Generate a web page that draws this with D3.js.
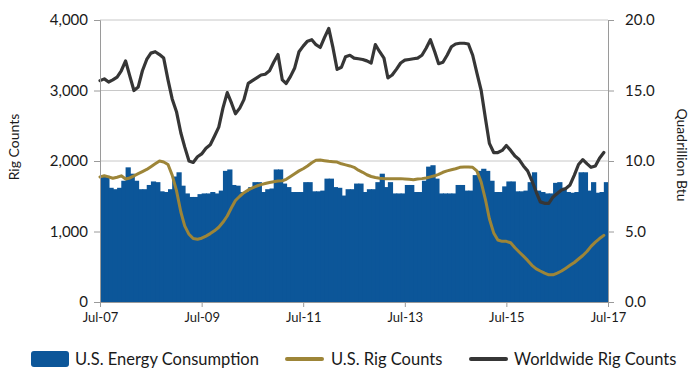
<!DOCTYPE html>
<html>
<head>
<meta charset="utf-8">
<script src="https://cdn.jsdelivr.net/npm/d3@7"></script>
<style>
  html, body { margin: 0; padding: 0; background: #fff; }
  svg { display: block; font-family: Lato, "Open Sans", sans-serif; }
</style>
</head>
<body>
<svg id="chart" width="700" height="382"></svg>
<script>
// ---- data (monthly, Jul-2007 .. Jun-2017) ----
const startMonth = "2007-07";
const energyConsumption = [
  8.9, 8.95, 8.1, 8.0, 8.1, 8.6, 9.55, 9.1, 8.6, 8.0, 8.0, 8.3,
  8.55, 8.5, 7.85, 7.8, 8.0, 8.9, 9.2, 8.25, 7.7, 7.45, 7.45, 7.65,
  7.7, 7.7, 7.8, 7.7, 7.9, 9.3, 9.4, 8.3, 8.25, 7.8, 7.8, 8.15,
  8.5, 8.5, 7.8, 8.0, 8.05, 9.4, 9.4, 8.4, 8.15, 7.8, 7.8, 7.8,
  8.5, 8.5, 7.85, 7.85, 7.9, 8.75, 8.75, 8.15, 8.1, 7.55, 8.0, 8.0,
  8.4, 8.4, 7.8, 8.0, 8.0, 8.5, 9.1, 8.15, 8.5, 7.7, 7.7, 7.7,
  8.3, 8.3, 7.8, 7.8, 8.6, 9.6, 9.7, 8.75, 7.7, 7.7, 7.7, 7.7,
  8.3, 8.3, 7.9, 7.9, 9.0, 9.3, 9.45, 9.3, 8.6, 7.8, 7.8, 8.2,
  8.55, 8.55, 7.85, 7.85, 7.9, 8.5, 9.2, 7.9, 7.8, 7.7, 7.7, 8.45,
  8.5, 8.1, 7.8, 7.75, 7.8, 9.2, 9.2, 7.9, 8.5, 7.75, 7.8, 8.5
];
const usRigCounts = [
  1775, 1790, 1775, 1755, 1770, 1790, 1745, 1760, 1790, 1820, 1850, 1880,
  1920, 1960, 2000, 1985, 1950, 1800, 1580, 1280, 1080, 960, 900, 890,
  905, 935, 970, 1010, 1060, 1130, 1220, 1340, 1440, 1500, 1550, 1590,
  1620, 1645, 1665, 1680, 1695, 1705, 1715, 1720, 1740, 1780, 1820, 1860,
  1890, 1930, 1975, 2010, 2015, 2005, 1995, 1990, 1985, 1960, 1945, 1930,
  1910, 1870, 1840, 1805, 1780, 1765, 1755, 1750, 1750, 1750, 1750, 1750,
  1745, 1740, 1735, 1745, 1750, 1760, 1775, 1790, 1810, 1840, 1860, 1875,
  1890, 1910, 1915, 1915, 1910, 1860, 1700, 1450, 1180, 980, 880, 860,
  860, 840, 770, 710, 650, 590, 520, 470, 440, 410, 385, 385,
  410, 440, 480, 520, 560, 610, 660, 720, 790, 850, 900, 945
];
const worldRigCounts = [
  3140, 3165, 3120, 3150, 3190, 3280, 3420, 3200, 3000, 3050, 3280, 3440,
  3530, 3550, 3510, 3460, 3150, 2880, 2700, 2400, 2200, 2000, 1980, 2060,
  2100, 2180, 2230, 2350, 2480, 2750, 2970, 2820, 2670, 2750, 2870, 3100,
  3140, 3180, 3220, 3230, 3280, 3400, 3510, 3150, 3100, 3200, 3320, 3550,
  3630, 3700, 3720, 3650, 3610, 3750, 3880, 3600, 3300, 3330, 3480, 3500,
  3460, 3450, 3440, 3420, 3390, 3650, 3550, 3460, 3180, 3220, 3300, 3390,
  3430, 3440, 3450, 3460, 3500, 3600, 3720, 3550, 3380, 3400, 3500, 3620,
  3660, 3670, 3670, 3660, 3500, 3250, 3000, 2600, 2250, 2120, 2120, 2150,
  2220, 2150, 2070, 2020, 1930, 1860, 1720, 1560, 1420, 1400, 1400, 1490,
  1540, 1590, 1610, 1660, 1800, 1950, 2020, 1960, 1910, 1930, 2040, 2120
];
const xTickLabels = ["Jul-07", "Jul-09", "Jul-11", "Jul-13", "Jul-15", "Jul-17"];
const leftTicks = [0, 1000, 2000, 3000, 4000];
const rightTicks = [0, 5, 10, 15, 20];
const seriesNames = ["U.S. Energy Consumption", "U.S. Rig Counts", "Worldwide Rig Counts"];

// ---- layout ----
const W = 700, H = 382;
const L = 100, R = 608, T = 20, B = 302;
const colBlue = "#0c5699", colGold = "#9d8538", colGray = "#363636";

const parse = d3.timeParse("%Y-%m");
const t0 = parse(startMonth);
const months = energyConsumption.map((_, i) => d3.timeMonth.offset(t0, i));
const tEnd = d3.timeMonth.offset(t0, 120);

const x = d3.scaleTime().domain([t0, tEnd]).range([L, R]);
const yL = d3.scaleLinear().domain([0, 4000]).range([B, T]);
const yR = d3.scaleLinear().domain([0, 20]).range([B, T]);

const svg = d3.select("#chart");

// gridlines
svg.append("g").selectAll("line").data(leftTicks.filter(d => d > 0)).join("line")
  .attr("x1", L).attr("x2", R)
  .attr("y1", d => yL(d)).attr("y2", d => yL(d))
  .attr("stroke", "#c8c8c8").attr("stroke-width", 1);

// bars
svg.append("g").selectAll("rect").data(energyConsumption).join("rect")
  .attr("x", (d, i) => x(months[i]))
  .attr("width", (d, i) => Math.min(R, x(d3.timeMonth.offset(months[i], 1)) + 0.9) - x(months[i]))
  .attr("y", d => yR(d))
  .attr("height", d => B - yR(d))
  .attr("fill", colBlue);

// lines
const line = d3.line().x((d, i) => x(months[i])).y(d => yL(d)).curve(d3.curveLinear);
svg.append("path").datum(usRigCounts).attr("d", line)
  .attr("fill", "none").attr("stroke", colGold).attr("stroke-width", 3)
  .attr("stroke-linejoin", "round").attr("stroke-linecap", "round");
svg.append("path").datum(worldRigCounts).attr("d", line)
  .attr("fill", "none").attr("stroke", colGray).attr("stroke-width", 3.2)
  .attr("stroke-linejoin", "round").attr("stroke-linecap", "round");

// axes
const axisColor = "#9a9a9a";
function styleAxis(g) {
  g.selectAll(".domain").attr("stroke", axisColor);
  g.selectAll(".tick line").attr("stroke", axisColor);
  g.selectAll(".tick text").attr("fill", "#1a1a1a");
}
const xTickDates = xTickLabels.map((_, i) => d3.timeMonth.offset(t0, i * 24));
const gx = svg.append("g").attr("transform", `translate(0,${B})`)
  .call(d3.axisBottom(x).tickValues(xTickDates).tickFormat((d, i) => xTickLabels[i]).tickSizeOuter(0).tickSize(5).tickPadding(6))
  .attr("font-size", 13).attr("font-family", "Lato, sans-serif");
styleAxis(gx);

const gl = svg.append("g").attr("transform", `translate(${L},0)`)
  .call(d3.axisLeft(yL).tickValues(leftTicks).tickFormat(d3.format(",")).tickSizeOuter(0).tickSize(6).tickPadding(6))
  .attr("font-size", 15).attr("font-family", "Lato, sans-serif");
styleAxis(gl);

const gr = svg.append("g").attr("transform", `translate(${R},0)`)
  .call(d3.axisRight(yR).tickValues(rightTicks).tickFormat(d3.format(".1f")).tickSizeOuter(0).tickSize(6).tickPadding(11))
  .attr("font-size", 15).attr("font-family", "Lato, sans-serif");
styleAxis(gr);

// axis titles
svg.append("text").attr("transform", "translate(19,147) rotate(-90)")
  .attr("text-anchor", "middle").attr("font-size", 14).attr("fill", "#1a1a1a").text("Rig Counts");
svg.append("text").attr("transform", "translate(677,155) rotate(90)")
  .attr("text-anchor", "middle").attr("font-size", 14).attr("fill", "#1a1a1a").text("Quadrillion Btu");

// legend
const ly = 359;
const lg = svg.append("g").attr("font-size", 16.5).attr("fill", "#1a1a1a");
lg.append("rect").attr("x", 31).attr("y", ly - 8).attr("width", 38).attr("height", 16).attr("rx", 3).attr("fill", colBlue);
lg.append("text").attr("x", 75).attr("y", ly + 6).text(seriesNames[0]);
lg.append("line").attr("x1", 287).attr("x2", 322).attr("y1", ly).attr("y2", ly)
  .attr("stroke", colGold).attr("stroke-width", 4).attr("stroke-linecap", "round");
lg.append("text").attr("x", 331).attr("y", ly + 6).text(seriesNames[1]);
lg.append("line").attr("x1", 471).attr("x2", 506).attr("y1", ly).attr("y2", ly)
  .attr("stroke", colGray).attr("stroke-width", 4).attr("stroke-linecap", "round");
lg.append("text").attr("x", 514).attr("y", ly + 6).text(seriesNames[2]);
</script>
</body>
</html>
